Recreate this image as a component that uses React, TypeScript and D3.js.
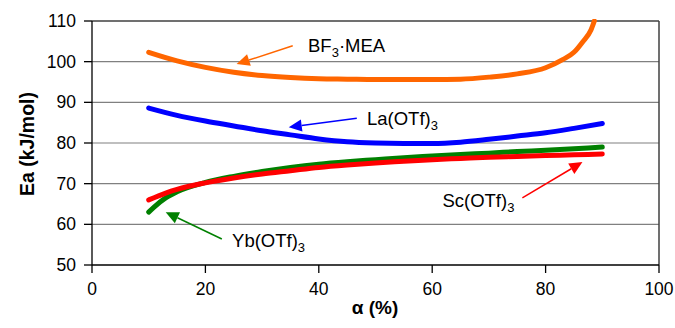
import React from "react";
import * as d3 from "d3";

const xTicks = [0, 20, 40, 60, 80, 100];
const yTicks = [50, 60, 70, 80, 90, 100, 110];

const bfAlpha = [10, 15, 20, 25, 30, 35, 40, 45, 50, 55, 60, 65, 70, 75, 80, 83, 85, 86.5, 88, 88.6];
const bfEa = [102.3, 100.2, 98.6, 97.4, 96.6, 96.1, 95.8, 95.7, 95.6, 95.6, 95.6, 95.7, 96.2, 97.0, 98.5, 100.5, 102.3, 104.8, 107.8, 110];

const laAlpha = [10, 15, 20, 25, 30, 35, 40, 45, 50, 55, 60, 65, 70, 75, 80, 85, 90];
const laEa = [88.6, 86.8, 85.4, 84.2, 83.0, 82.0, 81.0, 80.3, 80.0, 79.9, 79.9, 80.2, 80.9, 81.7, 82.5, 83.6, 84.8];

const ybAlpha = [10, 11, 13, 15, 20, 25, 30, 35, 40, 45, 50, 55, 60, 65, 70, 75, 80, 85, 90];
const ybEa = [63.0, 64.3, 66.5, 68.0, 70.3, 71.8, 73.0, 74.0, 74.8, 75.4, 75.9, 76.4, 76.8, 77.2, 77.5, 77.9, 78.2, 78.6, 79.0];

const scAlpha = [10, 13, 15, 20, 25, 30, 35, 40, 45, 50, 55, 60, 65, 70, 75, 80, 85, 90];
const scEa = [66.0, 67.7, 68.6, 70.2, 71.4, 72.4, 73.2, 74.0, 74.6, 75.1, 75.5, 75.9, 76.2, 76.5, 76.7, 76.9, 77.1, 77.3];

const seriesNames = ["BF3·MEA", "La(OTf)3", "Yb(OTf)3", "Sc(OTf)3"];
const seriesColors = ["#FF6600", "#0000FF", "#008000", "#FF0000"];

// annotation label anchors [alpha, Ea] and arrows [from alpha, from Ea, tip alpha, tip Ea]
const labelMain = ["BF", "La(OTf)", "Yb(OTf)", "Sc(OTf)"];
const labelSub = ["3", "3", "3", "3"];
const labelTail = ["·MEA", "", "", ""];
const labelPos = [[38.1, 102.4], [48.5, 84.4], [24.7, 54.4], [61.8, 64.3]];
const arrows = [
  [35.4, 103.9, 25.5, 99.4],
  [46.7, 86.1, 34.7, 83.9],
  [22.9, 56.4, 13.0, 63.0],
  [75.9, 66.5, 86.5, 75.3],
];

const W = 675;
const H = 328;
const left = 92;
const right = 659;
const top = 21;
const bottom = 265;
const font = "Arial, 'Liberation Sans', Helvetica, sans-serif";

export default function App() {
  const x = d3.scaleLinear().domain([0, 100]).range([left, right]);
  const y = d3.scaleLinear().domain([50, 110]).range([bottom, top]);
  const line = d3
    .line<[number, number]>()
    .x((d) => x(d[0]))
    .y((d) => y(d[1]))
    .curve(d3.curveMonotoneX);

  const series = [
    bfAlpha.map((a, i) => [a, bfEa[i]] as [number, number]),
    laAlpha.map((a, i) => [a, laEa[i]] as [number, number]),
    ybAlpha.map((a, i) => [a, ybEa[i]] as [number, number]),
    scAlpha.map((a, i) => [a, scEa[i]] as [number, number]),
  ];

  return (
    <div style={{ position: "absolute", left: 0, top: 0 }}>
      <svg width={W} height={H} style={{ display: "block", background: "#fff" }} fontFamily={font}>
        {/* gridlines */}
        {yTicks.slice(1).map((t) => (
          <line key={"g" + t} x1={left} x2={right} y1={y(t)} y2={y(t)} stroke={t === 110 ? "#404040" : "#808080"} strokeWidth={t === 110 ? 1.5 : 1.2} />
        ))}
        {/* right border */}
        <line x1={right} x2={right} y1={top} y2={bottom} stroke="#404040" strokeWidth={1.5} />
        {/* axes */}
        <line x1={left} x2={left} y1={top} y2={bottom} stroke="#000" strokeWidth={1.3} />
        <line x1={left} x2={right} y1={bottom} y2={bottom} stroke="#000" strokeWidth={1.3} />
        {yTicks.map((t) => (
          <g key={"y" + t}>
            <line x1={left - 8} x2={left} y1={y(t)} y2={y(t)} stroke="#000" strokeWidth={1.3} />
            <text x={left - 16} y={y(t)} dy="0.35em" textAnchor="end" fontSize={17.5} fill="#000">
              {t}
            </text>
          </g>
        ))}
        {xTicks.map((t) => (
          <g key={"x" + t}>
            <line x1={x(t)} x2={x(t)} y1={bottom} y2={bottom + 8} stroke="#000" strokeWidth={1.3} />
            <text x={x(t)} y={295} textAnchor="middle" fontSize={17.5} fill="#000">
              {t}
            </text>
          </g>
        ))}
        {/* axis titles */}
        <text x={375} y={314} textAnchor="middle" fontSize={19} fontWeight="bold" fill="#000">
          α (%)
        </text>
        <text transform={`translate(34,144) rotate(-90)`} textAnchor="middle" fontSize={19.5} fontWeight="bold" fill="#000">
          Ea (kJ/mol)
        </text>
        {/* series */}
        <defs>
          <clipPath id="plotclip">
            <rect x={left} y={top - 2} width={right - left} height={bottom - top + 2} />
          </clipPath>
        </defs>
        <g clipPath="url(#plotclip)">
          {series.map((s, i) => (
            <path key={seriesNames[i]} d={line(s) || ""} fill="none" stroke={seriesColors[i]} strokeWidth={5} strokeLinecap="round" strokeLinejoin="round" />
          ))}
        </g>
        {/* annotations */}
        {arrows.map((a, i) => {
          const x1 = x(a[0]);
          const y1 = y(a[1]);
          const x2 = x(a[2]);
          const y2 = y(a[3]);
          const ang = Math.atan2(y2 - y1, x2 - x1);
          const hl = 13;
          const hw = 6;
          const bx = x2 - hl * Math.cos(ang);
          const by = y2 - hl * Math.sin(ang);
          const px = -Math.sin(ang) * hw;
          const py = Math.cos(ang) * hw;
          return (
            <g key={"a" + i}>
              <line x1={x1} y1={y1} x2={bx} y2={by} stroke={seriesColors[i]} strokeWidth={1.5} />
              <polygon points={`${x2},${y2} ${bx + px},${by + py} ${bx - px},${by - py}`} fill={seriesColors[i]} />
            </g>
          );
        })}
        {labelMain.map((m, i) => (
          <text key={"l" + i} x={x(labelPos[i][0])} y={y(labelPos[i][1])} fontSize={18.5} fill="#000">
            {m}
            <tspan fontSize={13} dy={5}>
              {labelSub[i]}
            </tspan>
            {labelTail[i] ? <tspan dy={-5}>{labelTail[i]}</tspan> : null}
          </text>
        ))}
      </svg>
    </div>
  );
}
